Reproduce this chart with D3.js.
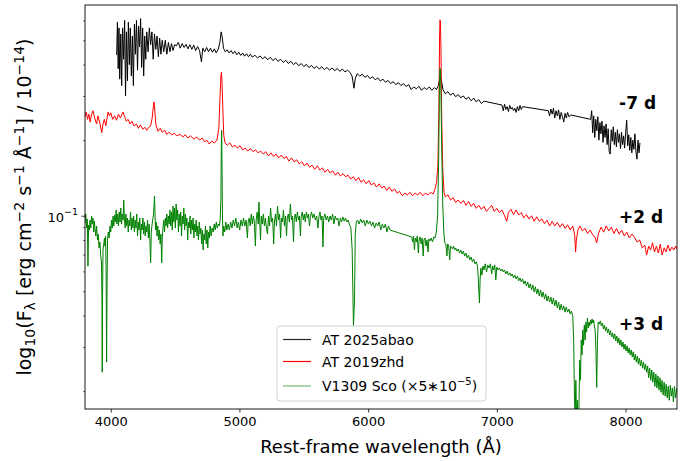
<!DOCTYPE html>
<html>
<head>
<meta charset="utf-8">
<script src="https://cdn.jsdelivr.net/npm/d3@7"></script>
<style>
  body { margin: 0; background: #fff; }
  text { font-family: "DejaVu Sans", sans-serif; }
</style>
</head>
<body>
<svg id="chart" width="697" height="461"></svg>
<script>
// Spectra: [rest-frame wavelength (Å), F_lambda / 1e-14]
const abaoSpec = [
[4046,0.437],[4052,0.590],[4058,0.385],[4064,0.560],[4070,0.350],[4078,0.530],[4085,0.330],[4092,0.560],[4100,0.420],[4108,0.600],
[4115,0.300],[4122,0.540],[4130,0.345],[4137,0.590],[4145,0.400],[4152,0.560],[4160,0.360],[4168,0.520],[4176,0.330],[4184,0.580],
[4192,0.440],[4200,0.600],[4208,0.380],[4216,0.570],[4224,0.470],[4232,0.610],[4240,0.390],[4248,0.560],[4256,0.360],[4264,0.520],
[4272,0.420],[4280,0.540],[4290,0.450],[4300,0.560],[4310,0.480],[4320,0.540],[4330,0.420],[4340,0.530],[4350,0.460],[4360,0.520],
[4370,0.430],[4380,0.510],[4390,0.440],[4400,0.500],[4412,0.450],[4424,0.500],[4436,0.440],[4448,0.490],[4460,0.450],[4472,0.485],
[4484,0.455],[4496,0.480],[4510,0.475],[4525,0.490],[4540,0.465],[4555,0.485],[4570,0.468],[4585,0.482],[4600,0.462],[4615,0.480],
[4630,0.460],[4645,0.478],[4660,0.455],[4675,0.472],[4690,0.455],[4705,0.410],[4715,0.465],[4730,0.450],[4745,0.468],[4760,0.450],
[4775,0.465],[4790,0.448],[4805,0.462],[4820,0.445],[4835,0.460],[4848,0.490],[4858,0.540],[4866,0.515],[4876,0.465],[4890,0.450],
[4905,0.458],[4920,0.445],[4935,0.455],[4950,0.442],[4965,0.452],[4980,0.438],[4995,0.448],[5010,0.435],[5025,0.445],[5040,0.432],
[5055,0.442],[5070,0.430],[5085,0.440],[5100,0.428],[5120,0.436],[5140,0.425],[5160,0.433],[5180,0.422],[5200,0.430],[5220,0.418],
[5240,0.428],[5260,0.415],[5280,0.424],[5300,0.412],[5320,0.420],[5340,0.408],[5360,0.416],[5380,0.404],[5400,0.412],[5420,0.400],
[5440,0.408],[5460,0.396],[5480,0.404],[5500,0.393],[5520,0.401],[5540,0.389],[5560,0.397],[5580,0.386],[5600,0.394],[5620,0.384],
[5640,0.392],[5660,0.382],[5680,0.390],[5700,0.380],[5720,0.388],[5740,0.378],[5760,0.386],[5780,0.376],[5800,0.384],[5820,0.374],
[5840,0.380],[5860,0.372],[5875,0.360],[5890,0.322],[5900,0.352],[5915,0.368],[5935,0.360],[5955,0.366],[5975,0.356],[5995,0.362],
[6015,0.352],[6035,0.358],[6055,0.348],[6075,0.354],[6095,0.344],[6115,0.350],[6135,0.340],[6155,0.346],[6175,0.336],[6195,0.342],
[6215,0.333],[6235,0.339],[6255,0.330],[6275,0.336],[6295,0.327],[6315,0.333],[6335,0.318],[6355,0.326],[6375,0.320],[6395,0.328],
[6415,0.316],[6435,0.324],[6455,0.318],[6475,0.326],[6495,0.316],[6515,0.324],[6530,0.318],[6545,0.330],[6556,0.350],[6563,0.356],
[6570,0.345],[6582,0.318],[6600,0.306],[6620,0.312],[6640,0.302],[6660,0.308],[6680,0.298],[6700,0.304],[6720,0.295],[6740,0.300],
[6760,0.291],[6780,0.297],[6800,0.287],[6820,0.294],[6840,0.284],[6860,0.290],[6880,0.280],[6900,0.286],
[7040,0.276],[7050,0.262],[7060,0.278],[7070,0.265],[7080,0.272],[7090,0.260],[7100,0.275],[7110,0.266],[7120,0.270],[7130,0.262],
[7140,0.268],[7150,0.258],[7160,0.272],[7170,0.262],[7180,0.275],[7190,0.265],[7200,0.272],
[7400,0.262],[7410,0.250],[7420,0.266],[7430,0.254],[7440,0.268],[7450,0.245],[7460,0.262],[7470,0.250],[7480,0.264],[7490,0.242],
[7500,0.258],[7510,0.248],[7520,0.236],[7530,0.256],[7540,0.245],[7550,0.258],[7560,0.248],[7575,0.252],
[7729,0.242],[7737,0.262],[7745,0.214],[7753,0.250],[7761,0.205],[7769,0.242],[7777,0.218],[7785,0.248],[7793,0.200],[7801,0.235],
[7809,0.212],[7817,0.238],[7825,0.196],[7833,0.228],[7841,0.205],[7849,0.232],[7857,0.192],[7865,0.222],[7873,0.180],[7881,0.176],
[7889,0.220],[7897,0.198],[7905,0.226],[7913,0.192],[7921,0.215],[7929,0.188],[7937,0.220],[7945,0.196],[7953,0.212],[7961,0.185],
[7969,0.215],[7977,0.192],[7985,0.208],[7993,0.186],[8001,0.214],[8009,0.240],[8017,0.190],[8025,0.210],[8033,0.182],[8041,0.205],
[8049,0.178],[8057,0.200],[8065,0.184],[8073,0.212],[8081,0.180],[8089,0.168],[8097,0.200],[8105,0.178],[8112,0.195]
];

const zhdSpec = [
[3800,0.247],[3810,0.259],[3820,0.242],[3830,0.254],[3840,0.236],[3850,0.252],[3862,0.262],[3875,0.245],[3890,0.232],[3900,0.250],
[3910,0.240],[3920,0.228],[3930,0.214],[3940,0.232],[3950,0.242],[3962,0.228],[3979,0.259],[3990,0.250],[4000,0.257],[4015,0.242],
[4030,0.250],[4045,0.240],[4060,0.254],[4075,0.245],[4095,0.259],[4110,0.247],[4120,0.238],[4135,0.242],[4150,0.232],[4165,0.238],
[4180,0.228],[4200,0.232],[4215,0.223],[4230,0.230],[4250,0.221],[4265,0.225],[4280,0.219],[4295,0.225],[4310,0.228],[4322,0.245],
[4330,0.269],[4336,0.284],[4342,0.264],[4350,0.232],[4367,0.217],[4385,0.223],[4400,0.215],[4420,0.219],[4435,0.211],[4455,0.215],
[4475,0.210],[4495,0.213],[4515,0.208],[4538,0.211],[4560,0.206],[4580,0.210],[4600,0.204],[4620,0.208],[4645,0.202],[4668,0.206],
[4690,0.200],[4710,0.204],[4730,0.197],[4746,0.200],[4765,0.193],[4785,0.198],[4805,0.195],[4825,0.200],[4840,0.223],[4850,0.303],
[4856,0.360],[4860,0.373],[4864,0.347],[4870,0.276],[4878,0.210],[4888,0.195],[4905,0.191],[4925,0.195],[4945,0.188],[4965,0.191],
[4985,0.186],[5005,0.190],[5025,0.183],[5045,0.186],[5065,0.181],[5085,0.185],[5105,0.180],[5125,0.183],[5145,0.178],[5165,0.181],
[5185,0.176],[5205,0.180],[5225,0.173],[5245,0.178],[5265,0.172],[5285,0.176],[5305,0.170],[5325,0.1745],[5345,0.169],[5365,0.172],
[5385,0.165],[5405,0.170],[5425,0.164],[5445,0.167],[5465,0.161],[5485,0.164],[5505,0.158],[5525,0.162],[5545,0.156],[5565,0.159],
[5585,0.153],[5605,0.158],[5625,0.152],[5645,0.155],[5665,0.149],[5685,0.153],[5705,0.148],[5725,0.151],[5745,0.145],[5765,0.149],
[5785,0.144],[5805,0.147],[5825,0.143],[5845,0.145],[5865,0.140],[5885,0.143],[5905,0.138],[5925,0.142],[5945,0.136],[5965,0.139],
[5985,0.134],[6005,0.138],[6025,0.1325],[6045,0.135],[6065,0.130],[6085,0.134],[6105,0.129],[6125,0.131],[6145,0.126],[6165,0.130],
[6185,0.125],[6205,0.128],[6225,0.123],[6245,0.125],[6265,0.120],[6285,0.123],[6305,0.121],[6325,0.124],[6345,0.120],[6365,0.123],
[6385,0.121],[6405,0.124],[6425,0.120],[6445,0.123],[6465,0.121],[6485,0.124],[6505,0.122],[6520,0.128],[6532,0.136],[6542,0.159],
[6550,0.264],[6555,0.501],[6558,0.603],[6562,0.592],[6566,0.457],[6572,0.240],[6580,0.152],[6590,0.124],[6600,0.119],[6620,0.121],
[6640,0.1155],[6660,0.118],[6680,0.113],[6700,0.1155],[6720,0.112],[6740,0.115],[6760,0.110],[6780,0.114],[6800,0.109],[6820,0.112],
[6840,0.107],[6860,0.110],[6880,0.106],[6900,0.109],[6920,0.104],[6940,0.107],[6960,0.110],[6980,0.104],[7000,0.107],[7020,0.103],
[7040,0.1054],[7060,0.100],[7077,0.095],[7090,0.103],[7110,0.106],[7130,0.101],[7150,0.1054],[7170,0.1006],[7190,0.103],[7210,0.098],
[7230,0.101],[7250,0.097],[7270,0.100],[7290,0.095],[7310,0.099],[7330,0.095],[7350,0.097],[7370,0.093],[7390,0.096],[7410,0.091],
[7430,0.095],[7450,0.091],[7470,0.094],[7490,0.090],[7510,0.093],[7530,0.089],[7550,0.092],[7570,0.0877],[7590,0.091],[7605,0.084],
[7612,0.0716],[7618,0.080],[7630,0.0877],[7646,0.091],[7665,0.087],[7685,0.089],[7705,0.085],[7725,0.0877],[7745,0.084],[7765,0.0815],
[7776,0.078],[7790,0.085],[7810,0.090],[7830,0.086],[7850,0.091],[7870,0.087],[7890,0.090],[7910,0.085],[7930,0.089],[7950,0.0845],
[7970,0.0877],[7990,0.083],[8010,0.086],[8030,0.0815],[8050,0.0845],[8070,0.082],[8090,0.0785],[8110,0.080],[8130,0.0745],[8150,0.0764],
[8164,0.0697],[8180,0.0757],[8195,0.0730],[8210,0.078],[8225,0.0717],[8240,0.0757],[8255,0.071],[8270,0.077],[8285,0.0697],[8300,0.0745],
[8315,0.0717],[8330,0.0764],[8345,0.0723],[8360,0.075],[8375,0.0730],[8390,0.0757],[8400,0.0737]
];

// V1309 Sco, already multiplied by 5e-5
const scoSpec = [
[3800,0.0935],[3806,0.1016],[3813,0.0893],[3818,0.0970],[3823,0.0630],[3828,0.0918],[3834,0.0877],[3839,0.0961],[3845,0.0893],[3851,0.0997],
[3857,0.0926],[3862,0.0979],[3868,0.0861],[3873,0.0952],[3878,0.0885],[3884,0.0830],[3890,0.0910],[3897,0.0800],[3903,0.0845],[3909,0.0744],
[3916,0.0786],[3922,0.0691],[3928,0.0655],[3932,0.0461],[3934,0.0238],[3936,0.0461],[3940,0.0730],[3946,0.0772],[3951,0.0815],[3955,0.0757],
[3960,0.0830],[3964,0.0608],[3968,0.0261],[3971,0.0506],[3975,0.0800],[3981,0.0861],[3987,0.0815],[3994,0.0910],[4000,0.0861],[4006,0.0961],
[4012,0.0893],[4018,0.0997],[4024,0.0910],[4030,0.1006],[4036,0.0944],[4042,0.1054],[4048,0.0926],[4054,0.1016],[4060,0.0910],[4066,0.1035],
[4072,0.0944],[4078,0.1073],[4084,0.0926],[4090,0.1016],[4096,0.0961],[4101,0.1155],[4106,0.0979],[4112,0.0893],[4118,0.1016],[4124,0.0910],
[4130,0.0979],[4136,0.0861],[4142,0.0961],[4148,0.0910],[4154,0.1035],[4160,0.0877],[4166,0.0979],[4172,0.0893],[4178,0.0997],[4184,0.0861],
[4190,0.0961],[4196,0.0893],[4202,0.1016],[4208,0.0830],[4214,0.0944],[4220,0.0877],[4226,0.0979],[4232,0.0800],[4238,0.0926],[4244,0.0877],
[4250,0.0979],[4256,0.0845],[4262,0.0944],[4268,0.0830],[4274,0.0910],[4280,0.0861],[4286,0.0961],[4292,0.0815],[4298,0.0926],[4304,0.0800],
[4310,0.0649],[4315,0.0861],[4320,0.0910],[4326,0.0961],[4332,0.1006],[4337,0.1103],[4340,0.1198],[4343,0.1054],[4348,0.0877],[4354,0.0944],
[4360,0.0830],[4366,0.0910],[4372,0.0800],[4378,0.0877],[4384,0.0772],[4390,0.0845],[4396,0.0649],[4401,0.0830],[4406,0.0893],[4412,0.0961],
[4418,0.0861],[4424,0.0979],[4430,0.0910],[4436,0.1016],[4442,0.0893],[4448,0.0997],[4454,0.0926],[4460,0.1054],[4466,0.0910],[4472,0.1035],
[4478,0.0877],[4484,0.1093],[4490,0.0944],[4496,0.1073],[4502,0.0893],[4508,0.1114],[4514,0.0961],[4520,0.1054],[4526,0.0861],[4532,0.1016],
[4538,0.0910],[4544,0.1035],[4550,0.0830],[4556,0.0997],[4562,0.0926],[4568,0.1073],[4574,0.0877],[4580,0.1016],[4586,0.0910],[4592,0.0979],
[4598,0.0800],[4604,0.0944],[4610,0.0893],[4616,0.0997],[4622,0.0845],[4628,0.0961],[4634,0.0877],[4640,0.0979],[4646,0.0815],[4652,0.0926],
[4658,0.0861],[4664,0.0961],[4670,0.0830],[4676,0.0910],[4682,0.0800],[4688,0.0944],[4694,0.0845],[4700,0.0893],[4706,0.0772],[4712,0.0877],
[4718,0.0730],[4724,0.0845],[4730,0.0800],[4736,0.0910],[4742,0.0772],[4748,0.0877],[4754,0.0744],[4760,0.0861],[4766,0.0815],[4772,0.0910],
[4780,0.0830],[4788,0.0893],[4796,0.0861],[4804,0.0926],[4812,0.0877],[4820,0.0944],[4828,0.0893],[4836,0.0926],[4844,0.0910],[4850,0.0961],
[4856,0.1155],[4859,0.183],[4862,0.219],[4865,0.152],[4868,0.1006],[4872,0.0830],[4878,0.0910],[4886,0.0861],[4894,0.0944],[4902,0.0877],
[4912,0.0926],[4922,0.0877],[4932,0.0944],[4942,0.0893],[4952,0.0961],[4962,0.0910],[4972,0.0979],[4982,0.0893],[4992,0.0944],[5002,0.0877],
[5012,0.0961],[5022,0.0910],[5032,0.0979],[5042,0.0910],[5052,0.0961],[5062,0.0815],[5068,0.0944],[5076,0.0979],[5084,0.0910],[5092,0.1016],
[5100,0.0926],[5108,0.0997],[5116,0.0944],[5124,0.0757],[5130,0.0961],[5138,0.1035],[5146,0.0926],[5152,0.1134],[5158,0.0944],[5164,0.0800],
[5170,0.0997],[5178,0.0926],[5186,0.1016],[5194,0.0910],[5202,0.0979],[5210,0.0893],[5218,0.0845],[5226,0.0997],[5234,0.0910],[5242,0.1073],
[5250,0.0944],[5258,0.0979],[5266,0.0772],[5272,0.0944],[5280,0.1016],[5288,0.0910],[5296,0.1093],[5304,0.0961],[5312,0.1016],[5320,0.0815],
[5326,0.0979],[5334,0.0944],[5342,0.1054],[5350,0.0910],[5358,0.0997],[5366,0.0830],[5372,0.0979],[5380,0.1016],[5388,0.0944],[5396,0.1114],
[5404,0.0961],[5412,0.0997],[5420,0.0786],[5426,0.0979],[5434,0.1016],[5442,0.0944],[5450,0.1035],[5458,0.0961],[5466,0.0997],[5474,0.0830],
[5480,0.0997],[5488,0.1035],[5496,0.0961],[5504,0.1016],[5512,0.0944],[5520,0.1035],[5528,0.0979],[5536,0.1016],[5544,0.0910],[5552,0.0997],
[5560,0.1035],[5570,0.0979],[5580,0.1016],[5590,0.0961],[5600,0.0997],[5610,0.0893],[5618,0.0997],[5626,0.1035],[5634,0.0961],[5642,0.0997],
[5649,0.0751],[5655,0.0979],[5664,0.1016],[5674,0.0961],[5684,0.0997],[5694,0.0944],[5704,0.0997],[5714,0.0961],[5724,0.1016],[5734,0.0926],
[5744,0.0997],[5754,0.0961],[5764,0.0979],[5774,0.0910],[5784,0.0979],[5794,0.0944],[5804,0.0988],[5814,0.0952],[5824,0.0979],[5834,0.0944],
[5844,0.0961],[5854,0.0926],[5866,0.0893],[5876,0.0730],[5886,0.0364],[5894,0.0461],[5900,0.0838],[5908,0.0944],[5918,0.0961],[5930,0.0926],
[5942,0.0970],[5954,0.0935],[5966,0.0961],[5978,0.0910],[5990,0.0961],[6002,0.0926],[6014,0.0952],[6026,0.0910],[6038,0.0944],[6050,0.0893],
[6062,0.0935],[6074,0.0910],[6086,0.0944],[6098,0.0877],[6110,0.0926],[6122,0.0893],[6134,0.0926],[6146,0.0861],[6158,0.0910],[6170,0.0877],
[6338,0.0823],[6346,0.0786],[6352,0.0830],[6360,0.0730],[6366,0.0815],[6374,0.0786],[6382,0.0830],[6390,0.0710],[6396,0.0800],[6404,0.0823],
[6412,0.0772],[6420,0.0815],[6428,0.0691],[6434,0.0800],[6442,0.0815],[6450,0.0757],[6458,0.0800],[6466,0.0717],[6472,0.0808],[6480,0.0793],
[6490,0.0815],[6500,0.0786],[6510,0.0823],[6520,0.0815],[6530,0.0861],[6540,0.1006],[6548,0.167],[6554,0.317],[6558,0.387],[6562,0.380],
[6566,0.303],[6572,0.183],[6580,0.1103],[6588,0.0861],[6596,0.0779],[6604,0.0772],[6612,0.0691],[6618,0.0772],[6626,0.0757],[6634,0.0667],
[6640,0.0757],[6648,0.0751],[6656,0.0737],[6664,0.0757],[6672,0.0730],[6680,0.0744],[6690,0.0723],[6700,0.0737],[6710,0.0710],[6720,0.0730],
[6730,0.0704],[6740,0.0723],[6750,0.0691],[6760,0.0710],[6770,0.0678],[6780,0.0697],[6790,0.0667],[6800,0.0685],[6810,0.0655],[6820,0.0672],
[6830,0.0643],[6840,0.0655],[6850,0.0630],[6856,0.0565],[6860,0.0506],[6865,0.0449],[6870,0.0555],[6876,0.0619],[6884,0.0580],[6892,0.0630],
[6900,0.0608],[6910,0.0643],[6920,0.0597],[6930,0.0636],[6940,0.0619],[6950,0.0643],[6960,0.0586],[6968,0.0630],[6976,0.0608],[6984,0.0636],
[6992,0.0555],[7000,0.0624],[7010,0.0608],[7020,0.0619],[7030,0.0602],[7040,0.0613],[7050,0.0597],[7060,0.0608],[7070,0.0586],[7080,0.0602],
[7090,0.0580],[7100,0.0592],[7110,0.0575],[7120,0.0586],[7130,0.0565],[7140,0.0580],[7150,0.0560],[7160,0.0575],[7170,0.0550],[7180,0.0565],
[7190,0.0545],[7200,0.0560],[7210,0.0535],[7220,0.0550],[7230,0.0525],[7240,0.0545],[7250,0.0516],[7260,0.0535],[7270,0.0506],[7280,0.0530],
[7290,0.0497],[7300,0.0521],[7310,0.0488],[7320,0.0511],[7330,0.0479],[7340,0.0506],[7350,0.0474],[7360,0.0497],[7370,0.0466],[7380,0.0488],
[7390,0.0457],[7400,0.0479],[7410,0.0453],[7420,0.0474],[7430,0.0444],[7440,0.0470],[7450,0.0437],[7460,0.0461],[7470,0.0429],[7480,0.0453],
[7490,0.0421],[7500,0.0444],[7510,0.0421],[7520,0.0437],[7530,0.0413],[7540,0.0433],[7550,0.0413],[7560,0.0425],[7570,0.0406],[7580,0.0417],
[7590,0.0398],[7597,0.0320],[7603,0.0193],[7608,0.0153],[7614,0.0221],[7620,0.0153],[7626,0.0184],[7632,0.0153],[7638,0.0168],[7644,0.0266],
[7650,0.0221],[7656,0.0320],[7662,0.0279],[7668,0.0351],[7674,0.0305],[7680,0.0367],[7686,0.0320],[7692,0.0377],[7698,0.0344],[7704,0.0391],
[7710,0.0357],[7716,0.0377],[7722,0.0364],[7728,0.0384],[7734,0.0370],[7740,0.0388],[7746,0.0374],[7752,0.0384],[7758,0.0364],[7764,0.0351],
[7770,0.0292],[7776,0.0207],[7782,0.0320],[7788,0.0377],[7796,0.0370],[7804,0.0381],[7812,0.0364],[7820,0.0374],[7828,0.0354],[7836,0.0367],
[7844,0.0348],[7852,0.0360],[7860,0.0341],[7868,0.0354],[7876,0.0335],[7884,0.0348],[7892,0.0329],[7900,0.0341],[7908,0.0323],[7916,0.0338],
[7924,0.0317],[7932,0.0332],[7940,0.0311],[7948,0.0326],[7956,0.0305],[7964,0.0320],[7972,0.0300],[7980,0.0314],[7988,0.0294],[7996,0.0308],
[8004,0.0289],[8012,0.0303],[8020,0.0284],[8028,0.0297],[8036,0.0279],[8044,0.0292],[8052,0.0274],[8060,0.0287],[8068,0.0266],[8076,0.0281],
[8084,0.0261],[8092,0.0276],[8100,0.0256],[8108,0.0271],[8116,0.0252],[8124,0.0266],[8132,0.0247],[8140,0.0261],[8148,0.0243],[8156,0.0256],
[8164,0.0238],[8172,0.0252],[8180,0.0226],[8188,0.0247],[8196,0.0221],[8204,0.0243],[8212,0.0217],[8220,0.0238],[8228,0.0209],[8236,0.0234],
[8244,0.0206],[8252,0.0230],[8260,0.0202],[8268,0.0226],[8276,0.0198],[8284,0.0221],[8292,0.0193],[8300,0.0217],[8308,0.0191],[8316,0.0213],
[8324,0.0188],[8332,0.0209],[8340,0.0184],[8348,0.0211],[8356,0.0191],[8364,0.0206],[8372,0.0181],[8380,0.0209],[8388,0.0188],[8396,0.0202],
[8400,0.0206]
];

const seriesNames = ["AT 2025abao", "AT 2019zhd", "V1309 Sco"];
const seriesColors = ["#000000", "#ff0000", "#008000"];
const scoScaleText = ["(×5∗10", "−5", ")"];

// Epoch labels placed in data coordinates
const epochText = ["-7 d", "+2 d", "+3 d"];
const epochWave = [7950, 7950, 7950];
const epochFlux = [0.28, 0.099, 0.037];

const xTicks = [4000, 5000, 6000, 7000, 8000];
const yMajorTicks = [0.1];
const yMinorTicks = [0.02, 0.03, 0.04, 0.05, 0.06, 0.07, 0.08, 0.09, 0.2, 0.3, 0.4, 0.5, 0.6];
const xDomain = [3800, 8400];
const yDomain = [0.01698, 0.691];

const svg = d3.select("#chart");
const plot = { left: 85, right: 677, top: 5, bottom: 409 };

const x = d3.scaleLinear().domain(xDomain).range([plot.left, plot.right]);
const y = d3.scaleLog().domain(yDomain).range([plot.bottom, plot.top]);

svg.append("defs").append("clipPath").attr("id", "plotclip")
  .append("rect")
  .attr("x", plot.left).attr("y", plot.top)
  .attr("width", plot.right - plot.left).attr("height", plot.bottom - plot.top);

const line = d3.line().x(d => x(d[0])).y(d => y(d[1]));
const specs = [abaoSpec, zhdSpec, scoSpec];

const lines = svg.append("g").attr("clip-path", "url(#plotclip)");
specs.forEach((s, i) => {
  lines.append("path")
    .datum(s)
    .attr("d", line)
    .attr("fill", "none")
    .attr("stroke", seriesColors[i])
    .attr("stroke-width", 1)
    .attr("stroke-linejoin", "round");
});

// Axes
const xAxis = d3.axisBottom(x).tickValues(xTicks).tickSize(3.5).tickPadding(4.5).tickFormat(d3.format("d"));
const gx = svg.append("g").attr("transform", `translate(0,${plot.bottom})`).call(xAxis);
gx.select(".domain").remove();
gx.selectAll("line").attr("stroke", "#000").attr("stroke-width", 0.8);
gx.selectAll("text").attr("font-size", 13).attr("fill", "#000")
  .attr("font-family", "DejaVu Sans");

const yMinorAxis = d3.axisLeft(y).tickValues(yMinorTicks).tickSize(2).tickFormat("");
const gym = svg.append("g").attr("transform", `translate(${plot.left},0)`).call(yMinorAxis);
gym.select(".domain").remove();
gym.selectAll("line").attr("stroke", "#000").attr("stroke-width", 0.6);

const yAxis = d3.axisLeft(y).tickValues(yMajorTicks).tickSize(3.5).tickFormat("");
const gy = svg.append("g").attr("transform", `translate(${plot.left},0)`).call(yAxis);
gy.select(".domain").remove();
gy.selectAll("line").attr("stroke", "#000").attr("stroke-width", 0.8);
gy.selectAll(".tick").each(function (d) {
  const exp = Math.round(Math.log10(d));
  const t = d3.select(this).append("text")
    .attr("x", -7).attr("y", 5.5)
    .attr("text-anchor", "end")
    .attr("fill", "#000")
    .attr("font-size", 13);
  t.append("tspan").text("10");
  t.append("tspan").attr("font-size", 9.5).attr("dy", -6.5).text("−" + Math.abs(exp));
});

// Frame
svg.append("rect")
  .attr("x", plot.left).attr("y", plot.top)
  .attr("width", plot.right - plot.left).attr("height", plot.bottom - plot.top)
  .attr("fill", "none").attr("stroke", "#000").attr("stroke-width", 0.9);

// Axis titles
svg.append("text")
  .attr("x", (plot.left + plot.right) / 2).attr("y", 453)
  .attr("text-anchor", "middle").attr("font-size", 18).attr("fill", "#000")
  .text("Rest-frame wavelength (Å)");

const yl = svg.append("text")
  .attr("transform", `translate(31,${(plot.top + plot.bottom) / 2}) rotate(-90)`)
  .attr("text-anchor", "middle").attr("font-size", 19).attr("fill", "#000");
const ylParts = [
  ["log", 0, 19], ["10", 4, 14], ["(F", -4, 19], ["λ", 4, 14], [" [erg cm", -4, 19], ["−2", -7, 14],
  [" s", 7, 19], ["−1", -7, 14], [" Å", 7, 19], ["−1", -7, 14], ["] / 10", 7, 19], ["−14", -7, 14], [")", 7, 19]
];
ylParts.forEach(p => yl.append("tspan").attr("dy", p[1]).attr("font-size", p[2]).text(p[0]));

// Epoch labels
epochText.forEach((t, i) => {
  svg.append("text")
    .attr("x", x(epochWave[i])).attr("y", y(epochFlux[i]))
    .attr("dominant-baseline", "central")
    .attr("font-size", 17).attr("font-weight", "bold").attr("fill", "#000")
    .text(t);
});

// Legend
const lg = svg.append("g").attr("transform", "translate(277,326)");
lg.append("rect").attr("x", 0).attr("y", 0).attr("width", 209).attr("height", 75)
  .attr("rx", 3).attr("fill", "#fff").attr("fill-opacity", 0.8)
  .attr("stroke", "#d0d0d0").attr("stroke-width", 1);
const rowY = [13.5, 35.5, 60];
const legendOpacity = [0.85, 1, 0.55];
seriesNames.forEach((name, i) => {
  lg.append("line").attr("x1", 6).attr("x2", 34).attr("y1", rowY[i]).attr("y2", rowY[i])
    .attr("stroke", seriesColors[i]).attr("stroke-width", 1.2).attr("stroke-opacity", legendOpacity[i]);
  const t = lg.append("text").attr("x", 45).attr("y", rowY[i] + 5)
    .attr("font-size", 14).attr("fill", "#000").text(name);
  if (i === 2) {
    t.append("tspan").text(" " + scoScaleText[0]);
    t.append("tspan").attr("font-size", 10).attr("dy", -6.5).text(scoScaleText[1]);
    t.append("tspan").attr("dy", 6.5).text(scoScaleText[2]);
  }
});
</script>
</body>
</html>
